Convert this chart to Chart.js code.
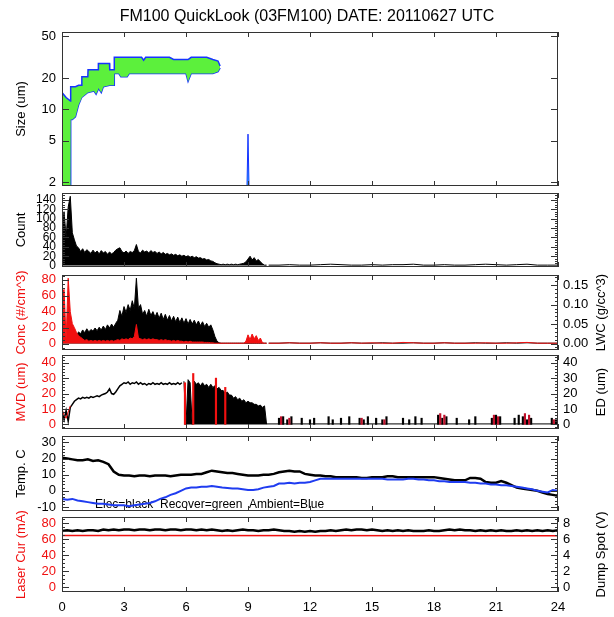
<!DOCTYPE html>
<html>
<head>
<meta charset="utf-8">
<title>FM100 QuickLook</title>
<script src="https://cdn.jsdelivr.net/npm/chart.js@4.4.1/dist/chart.umd.min.js"></script>
<style>
  body { margin: 0; background: #fff; }
  #wrap { position: relative; width: 614px; height: 617px; }
  #wrap canvas { position: absolute; left: 0; }
</style>
</head>
<body>
<div id="wrap"></div>
<script>
// ---------------- data (hours UTC) ----------------
const xTicks = [0, 3, 6, 9, 12, 15, 18, 21, 24];
const sizeTicks = [2, 5, 10, 20, 50];

// size spectrum envelope (um)
const sizeHours = [0, 0.2, 0.41, 0.42, 0.5, 0.65, 0.8, 0.95, 0.96, 1.25,
  1.26, 1.55, 1.65, 1.75, 1.76, 1.9, 2.0, 2.3, 2.31, 2.52,
  2.53, 2.75, 2.85, 3.15, 3.25, 3.85, 3.95, 4.05, 5.2, 5.4,
  6.0, 6.1, 6.25, 7.0, 7.3, 7.55, 7.65];
const sizeTop = [14.5, 13, 12, 16.5, 16.5, 16.5, 17, 17, 20.5, 20.5,
  24, 24, 24, 24, 27.5, 27.5, 27.5, 27.5, 24, 24,
  31.5, 31.5, 31.5, 31.5, 31.5, 31.5, 29.5, 31.5, 31.5, 30,
  30, 30, 31.5, 31.5, 30, 29, 26];
const sizeBot = [1.8, 1.8, 1.8, 8, 8, 8.5, 11, 13, 13, 14.5,
  14.5, 15, 14, 15.5, 16, 14.5, 16.5, 17, 17, 17,
  22, 22, 20.5, 20.5, 22, 22, 22, 22, 22, 22,
  22, 18.5, 22, 22, 22, 23, 25];
const spikeHours = [8.95, 9.0, 9.05];
const spikeSize = [1.8, 5.8, 1.8];

// dense records, one every 0.1 h from 0 to 9.9 h
const countVals = [80, 115, 60, 125, 148, 70, 55, 42, 38, 30,
  36, 28, 34, 30, 26, 33, 27, 31, 25, 32,
  27, 30, 24, 29, 25, 28, 33, 36, 38, 30,
  27, 31, 26, 30, 28, 32, 45, 30, 27, 33,
  29, 31, 27, 32, 28, 30, 26, 29, 25, 28,
  24, 26, 23, 25, 22, 24, 21, 23, 20, 22,
  19, 21, 18, 20, 17, 19, 16, 17, 14, 15,
  12, 13, 10, 9, 6, 4, 3, 2, 3, 2,
  3, 2, 3, 2, 3, 2, 3, 4, 5, 8,
  14, 20, 12, 17, 10, 13, 8, 4, 1, 1];
const concVals = [62, 68, 5, 82, 40, 25, 20, 14, 10, 8,
  6, 4, 5, 3, 4, 3, 4, 3, 4, 3,
  4, 3, 4, 3, 4, 3, 4, 5, 4, 6,
  5, 6, 5, 7, 6, 9, 24, 7, 6, 5,
  6, 5, 6, 5, 6, 5, 5, 4, 5, 4,
  5, 4, 4, 3, 4, 3, 4, 3, 3, 2,
  3, 2, 3, 2, 2, 2, 2, 2, 2, 1.5,
  1.5, 1.5, 1, 1, 0.5, 0.5, 0.5, 0.5, 0.5, 0.5,
  0.5, 0.5, 0.5, 0.5, 0.5, 0.5, 0.5, 0.5, 0.5, 3,
  11, 5, 12, 6, 10, 4, 7, 1, 0.5, 0.5];
const lwcVals = [0.005, 0.01, 0.005, 0.01, 0.015, 0.02, 0.025, 0.02, 0.03, 0.025,
  0.035, 0.028, 0.038, 0.03, 0.036, 0.032, 0.04, 0.033, 0.042, 0.035,
  0.045, 0.036, 0.048, 0.04, 0.05, 0.042, 0.052, 0.06, 0.085, 0.07,
  0.095, 0.08, 0.1, 0.085, 0.11, 0.09, 0.168, 0.09, 0.1, 0.075,
  0.085, 0.07, 0.088, 0.072, 0.082, 0.068, 0.08, 0.065, 0.078, 0.062,
  0.075, 0.06, 0.072, 0.058, 0.07, 0.056, 0.068, 0.054, 0.066, 0.052,
  0.064, 0.05, 0.062, 0.05, 0.06, 0.048, 0.058, 0.046, 0.056, 0.044,
  0.052, 0.042, 0.048, 0.035, 0.018, 0.006, 0.002, 0.001, 0.001, 0.001,
  0.001, 0.001, 0.001, 0.001, 0.001, 0.001, 0.001, 0.001, 0.001, 0.001,
  0.001, 0.001, 0.001, 0.001, 0.001, 0.001, 0.001, 0.001, 0.001, 0.001];

// quiet period, every 0.5 h from 10 to 24 h
const tailHours = [10, 10.5, 11, 11.5, 12, 12.5, 13, 13.5, 14, 14.5, 15, 15.5, 16, 16.5,
  17, 17.5, 18, 18.5, 19, 19.5, 20, 20.5, 21, 21.5, 22, 22.5, 23, 23.5, 24];
const countTail = [1, 1, 2, 1, 1, 2, 3, 2, 1, 1, 2, 1, 2, 2, 3, 1, 1, 2, 1, 1, 2, 3, 2, 1, 2, 3, 1, 1, 1];
const concTail = [0.5, 0.5, 1, 0.5, 0.5, 1, 0.5, 0.5, 1, 0.5, 1, 0.5, 0.5, 1.5, 1, 0.5, 0.5, 1, 0.5, 0.5, 0.5, 1, 0.5, 0.5, 1, 1.5, 0.5, 0.5, 0.5];
const lwcTail = [0.001, 0.001, 0.002, 0.001, 0.001, 0.002, 0.001, 0.001, 0.002, 0.001, 0.001, 0.002, 0.001, 0.001, 0.002,
  0.001, 0.001, 0.002, 0.001, 0.001, 0.002, 0.001, 0.001, 0.002, 0.001, 0.002, 0.001, 0.001, 0.001];

// MVD / ED (um)
const mvdLine = [8, 3, 9, 2, 11, 13, 15, 16, 17, 16.5,
  17.5, 17, 17.5, 17, 18, 17.5, 18, 18.5, 18, 19,
  19.5, 20, 21, 23, 20, 19.5, 21, 23, 25, 26,
  27, 26.5, 27.5, 26, 27, 26.5, 27.5, 26, 27, 26,
  26.5, 25.5, 26.5, 26, 27, 26, 26.5, 26, 27, 26,
  26.5, 26, 27, 26, 26.5, 26, 27, 26, 27];           // 0 .. 5.8 h
const mvdRedStart = [10, 6, 4, 8, 12];                 // 0 .. 0.4 h
const mvdFill = [28, 0, 29, 27, 0, 28, 26, 27, 25, 27,
  25, 26, 24, 26, 24, 25, 23, 24, 22, 22,
  20, 21, 19, 19, 17, 18, 16, 17, 15, 16,
  14, 15, 14, 14, 13, 13, 12, 12.5, 11, 12, 0];       // 5.9 .. 9.9 h
const mvdRedHours = [5.95, 6.35, 7.45, 7.9];
const mvdRedVals = [27, 33, 30, 24];
const edTailHours = [10.5, 10.7, 10.9, 11.1, 11.6, 12.0, 12.2, 12.9, 13.1, 13.5, 13.9, 14.4, 14.6,
  14.8, 15.2, 15.5, 15.7, 16.5, 16.8, 17.1, 17.4, 18.2, 18.4, 18.6, 19.1, 19.7, 20.0, 20.8,
  21.0, 21.2, 21.9, 22.1, 22.3, 22.5, 22.7, 23.7, 23.9];
const edTailVals = [4, 5, 3, 5, 4, 3, 4, 5, 3, 4, 5, 4, 3, 5, 4, 3, 5, 4, 3, 5, 4, 6, 4, 5, 4, 3, 5, 4, 6, 5, 4, 6, 5, 3, 4, 4, 3];
const mvdTailHours = [10.6, 11.0, 14.5, 15.6, 18.3, 18.5, 20.9, 21.1, 22.4, 22.6, 23.8];
const mvdTailVals = [5, 4, 4, 3, 7, 6, 6, 5, 7, 6, 3];
const baseHours = [9.9, 24];
const baseVals = [0.3, 0.3];

// temperatures (C), every 0.25 h
const tempElec = [20.5, 20, 19.5, 19, 19, 19.5, 18.5, 19, 18, 16.5,
  12, 10, 9.5, 9.5, 9, 9.5, 9.5, 9, 9.5, 9.5,
  9.5, 9, 9.5, 10, 10, 10, 10.5, 10.5, 11.5, 12.5,
  12, 11.5, 11, 11, 10.5, 10, 9.5, 9.5, 9.5, 10,
  10, 10.5, 11.5, 12, 12.5, 12, 12, 10.5, 10, 9.5,
  9.5, 9, 9, 8.5, 8.5, 8.5, 8.5, 8.5, 8, 8,
  8.5, 8.5, 8.5, 9, 9, 8.5, 8.5, 8.5, 8.5, 8.5,
  8.5, 8.5, 8.5, 8, 7.5, 7, 6.5, 6.5, 6.5, 8,
  8, 7.5, 5.5, 5, 5, 6, 5, 3.5, 2, 1.5,
  1, 0.5, 0, -1, -2, -2.5, -3];
const tempAmb = [-5, -5.5, -5, -6, -6.5, -7, -7.5, -8, -8, -8.5,
  -9, -9, -9, -9.5, -9, -8.5, -8, -7.5, -6.5, -5,
  -4, -2.5, -1.5, 0, 1.5, 2, 2, 2.5, 2.5, 3,
  2.5, 2, 1.8, 1.5, 1.5, 1, 0.5, 0.5, 1, 2,
  2.5, 3, 4.5, 4.5, 5, 4.5, 5, 5, 5.5, 6.5,
  7.5, 7.5, 7.5, 7.5, 7.5, 7.5, 7.5, 7.5, 7.5, 7.5,
  7.5, 7.5, 7.5, 7, 7, 7, 7, 7.5, 7.5, 7,
  7, 6.5, 6.5, 6, 6, 5.5, 5.5, 5.5, 5.5, 5,
  5, 4.5, 4.5, 4, 4, 3.5, 3.5, 3, 2.5, 2,
  1.5, 1, 0, -0.5, -1, 0.5, 0];

// laser current (mA) and dump spot (V)
const laserHours = [0, 24];
const laserCur = [64.5, 64];
const dumpSpot = [7.0, 7.1, 7.0, 7.1, 7.0, 7.1, 7.1, 7.0, 7.2, 7.1,
  7.2, 7.1, 7.2, 7.2, 7.1, 7.2, 7.2, 7.1, 7.2, 7.2,
  7.1, 7.2, 7.2, 7.1, 7.2, 7.2, 7.1, 7.2, 7.1, 7.2,
  7.1, 7.0, 7.1, 7.0, 7.1, 7.2, 7.1, 7.1, 7.0, 7.1,
  7.1, 7.2, 7.1, 7.0, 7.0, 6.9, 7.0, 6.9, 7.0, 6.9,
  7.0, 7.0, 7.1, 7.0, 7.1, 7.2, 7.1, 7.2, 7.2, 7.1,
  7.2, 7.1, 7.0, 7.1, 7.0, 7.1, 7.0, 7.1, 7.0, 7.0,
  7.0, 7.1, 7.0, 7.0, 7.1, 7.2, 7.1, 7.2, 7.1, 7.1,
  7.0, 7.1, 7.0, 7.1, 7.0, 7.1, 7.0, 7.0, 7.1, 7.0,
  7.1, 7.0, 7.1, 7.0, 7.1, 7.0, 7.1];

// ---------------- helpers ----------------
Chart.defaults.font.family = "'Liberation Sans', Arial, Helvetica, sans-serif";
Chart.defaults.color = '#000';
const RED = '#f01010';
const LEFT_W = 62, RIGHT_W = 56;

const pts = (hs, vs) => vs.map((v, i) => ({ x: hs[i], y: v }));
const series = (t0, dt, vs) => vs.map((v, i) => ({ x: +(t0 + i * dt).toFixed(2), y: v }));

function line(data, color, extra) {
  return Object.assign({ type: 'line', data, borderColor: color, backgroundColor: color,
    borderWidth: 1, pointRadius: 0, tension: 0, fill: false }, extra || {});
}
function bars(data, color, extra) {
  return Object.assign({ type: 'bar', data, backgroundColor: color, borderWidth: 0,
    barThickness: 1.5, grouped: false }, extra || {});
}
function yAxis(o) {
  const c = o.color || '#000';
  return {
    type: o.type || 'linear',
    position: o.right ? 'right' : 'left',
    min: o.min, max: o.max,
    grid: { display: false, drawTicks: false },
    border: { display: false },
    ticks: { stepSize: o.step, includeBounds: false, autoSkip: false, padding: o.right ? 5 : 6,
      color: c, font: { size: o.size || 13 }, callback: o.fmt || (v => v) },
    // right-hand titles are painted by idlFrame so that they read bottom-to-top like IDL
    title: { display: !o.right, text: o.title, color: c, font: { size: 13 },
      padding: { top: 14, bottom: 0 } },
    afterBuildTicks: o.ticks ? (s => { s.ticks = o.ticks.map(v => ({ value: v })); }) : undefined,
    afterFit: s => { s.width = o.right ? RIGHT_W : LEFT_W; }
  };
}
// empty right-hand axis, only reserves the margin
const spacerAxis = {
  position: 'right', display: true,
  grid: { display: false, drawTicks: false }, border: { display: false },
  ticks: { display: false },
  afterFit: s => { s.width = RIGHT_W; }
};

// IDL-like frame with inward tick marks
const idlFrame = {
  id: 'idlFrame',
  beforeDatasetsDraw(chart, args, opts) {
    if (!opts.note) return;
    const ctx = chart.ctx;
    ctx.save();
    ctx.fillStyle = '#000';
    ctx.font = "12px 'Liberation Sans', Arial, sans-serif";
    ctx.fillText(opts.note.text, opts.note.x, chart.chartArea.bottom - opts.note.dy);
    ctx.restore();
  },
  afterDatasetsDraw(chart, args, opts) {
    const { ctx, chartArea: a, scales } = chart;
    ctx.save();
    ctx.strokeStyle = '#333';
    ctx.lineWidth = 1;
    ctx.beginPath();
    xTicks.forEach(v => {
      const px = Math.round(scales.x.getPixelForValue(v)) + 0.5;
      ctx.moveTo(px, a.bottom); ctx.lineTo(px, a.bottom - 5);
      ctx.moveTo(px, a.top); ctx.lineTo(px, a.top + 5);
    });
    const side = (sc, edge, dir, minor) => {
      const vals = sc.ticks.map(t => t.value);
      vals.forEach(v => {
        const py = Math.round(sc.getPixelForValue(v)) + 0.5;
        ctx.moveTo(edge, py); ctx.lineTo(edge + dir * 7, py);
      });
      if (minor && vals.length > 1) {
        const st = (vals[1] - vals[0]) / minor;
        for (let k = Math.ceil(sc.min / st); k * st <= sc.max; k++) {
          const py = Math.round(sc.getPixelForValue(k * st)) + 0.5;
          ctx.moveTo(edge, py); ctx.lineTo(edge + dir * 3, py);
        }
      }
    };
    side(scales.y, a.left, 1, opts.yMinor);
    if (scales.y2) side(scales.y2, a.right, -1, opts.y2Minor);
    else side(scales.y, a.right, -1, opts.yMinor);
    ctx.stroke();
    ctx.strokeRect(a.left + 0.5, a.top + 0.5, a.width - 1, a.height - 1);
    if (scales.y2) {
      const t = scales.y2.options.title;
      ctx.translate(chart.width - 13, (a.top + a.bottom) / 2);
      ctx.rotate(-Math.PI / 2);
      ctx.textAlign = 'center';
      ctx.textBaseline = 'middle';
      ctx.fillStyle = t.color;
      ctx.font = "13px 'Liberation Sans', Arial, sans-serif";
      ctx.fillText(t.text, 0, 0);
    }
    ctx.restore();
  }
};

function panel(p) {
  const cTop = p.first ? 0 : p.top - 20;
  const cBot = p.last ? 617 : p.bottom + 20;
  const cv = document.createElement('canvas');
  cv.width = 614; cv.height = cBot - cTop;
  cv.style.top = cTop + 'px';
  document.getElementById('wrap').appendChild(cv);
  const x = {
    type: 'linear', min: 0, max: 24, offset: false, display: !!p.last,
    grid: { display: false, drawTicks: false }, border: { display: false },
    ticks: { stepSize: 3, padding: 8, font: { size: 13 }, maxRotation: 0, autoSkip: false }
  };
  if (p.last) x.afterFit = s => { s.height = 25; };
  const scales = { x, y: p.y };
  if (p.y2) scales.y2 = p.y2; else scales.yr = spacerAxis;
  return new Chart(cv, {
    type: 'line',
    data: { datasets: p.datasets },
    options: {
      responsive: false,
      animation: false,
      devicePixelRatio: 1,
      layout: { padding: { left: 0, right: 0, top: p.first ? 0 : 20, bottom: p.last ? 0 : 20 } },
      scales,
      plugins: {
        legend: { display: false },
        tooltip: { enabled: false },
        title: p.first ? {
          display: true, text: 'FM100 QuickLook (03FM100) DATE: 20110627 UTC',
          font: { size: 16, weight: 'normal', lineHeight: 1.25 }, color: '#000',
          padding: { top: 7, bottom: 5 }
        } : { display: false },
        idlFrame: p.frame || {}
      }
    },
    plugins: [idlFrame]
  });
}

// ---------------- panels ----------------
panel({
  first: true, top: 32, bottom: 186,
  y: yAxis({ type: 'logarithmic', min: 1.85, max: 55, title: 'Size (um)', ticks: sizeTicks }),
  frame: { yMinor: 0 },
  datasets: [
    line(pts(sizeHours, sizeTop), '#1733ff', { fill: '+1', backgroundColor: '#5cf03c', borderWidth: 1.5, order: 1 }),
    line(pts(sizeHours, sizeBot), '#1733ff', { borderWidth: 1.5, order: 1 }),
    line(pts(spikeHours, spikeSize), '#1733ff', { fill: 'start', backgroundColor: '#22d0ff', order: 0 })
  ]
});

panel({
  top: 193, bottom: 267,
  y: yAxis({ min: -3, max: 155, step: 20, title: 'Count', size: 12 }),
  frame: { yMinor: 4 },
  datasets: [
    line(series(0, 0.1, countVals), '#000', { fill: 'origin' }),
    line(pts(tailHours, countTail), '#000')
  ]
});

panel({
  top: 275, bottom: 350,
  y: yAxis({ min: -8, max: 86, step: 20, title: 'Conc (#/cm^3)', color: RED }),
  y2: yAxis({ right: true, min: -0.0165, max: 0.176, step: 0.05, title: 'LWC (g/cc^3)', fmt: v => v.toFixed(2) }),
  frame: { yMinor: 4, y2Minor: 5 },
  datasets: [
    line(series(0, 0.1, concVals), RED, { fill: 'origin', order: 0 }),
    line(pts(tailHours, concTail), RED, { order: 0 }),
    line(series(0, 0.1, lwcVals), '#000', { fill: 'origin', yAxisID: 'y2', order: 1 }),
    line(pts(tailHours, lwcTail), '#000', { yAxisID: 'y2', order: 1 })
  ]
});

panel({
  top: 355, bottom: 429,
  y: yAxis({ min: -3, max: 45, step: 10, title: 'MVD (um)', color: RED }),
  y2: yAxis({ right: true, min: -3, max: 45, step: 10, title: 'ED (um)' }),
  frame: { yMinor: 5, y2Minor: 5 },
  datasets: [
    bars(pts(mvdRedHours, mvdRedVals), RED, { order: 0 }),
    bars(pts(mvdTailHours, mvdTailVals), '#c0102a', { order: 0 }),
    line(series(0, 0.1, mvdRedStart), RED, { order: 1 }),
    line(series(0, 0.1, mvdLine), '#000', { borderWidth: 1.5, order: 2 }),
    line(series(5.9, 0.1, mvdFill), '#000', { fill: 'origin', order: 2 }),
    bars(pts(edTailHours, edTailVals), '#000', { order: 2 }),
    line(pts(baseHours, baseVals), '#000', { order: 3 })
  ]
});

panel({
  top: 436, bottom: 511,
  y: yAxis({ min: -12.5, max: 34, step: 10, title: 'Temp. C' }),
  frame: { yMinor: 5, note: { text: 'Elec=black  Recover=green  Ambient=Blue', x: 95, dy: 3 } },
  datasets: [
    line(series(0, 0.25, tempAmb), '#1f3cf0', { borderWidth: 2, order: 0 }),
    line(series(0, 0.25, tempElec), '#000', { borderWidth: 2.5, order: 1 })
  ]
});

panel({
  last: true, top: 517, bottom: 592,
  y: yAxis({ min: -6, max: 87.5, step: 20, title: 'Laser Cur (mA)', color: RED }),
  y2: yAxis({ right: true, min: -0.6, max: 8.75, step: 2, title: 'Dump Spot (V)' }),
  frame: { yMinor: 4, y2Minor: 4 },
  datasets: [
    line(series(0, 0.25, dumpSpot), '#000', { yAxisID: 'y2', borderWidth: 2.5, order: 0 }),
    line(pts(laserHours, laserCur), RED, { borderWidth: 1.5, order: 1 })
  ]
});
</script>
</body>
</html>
